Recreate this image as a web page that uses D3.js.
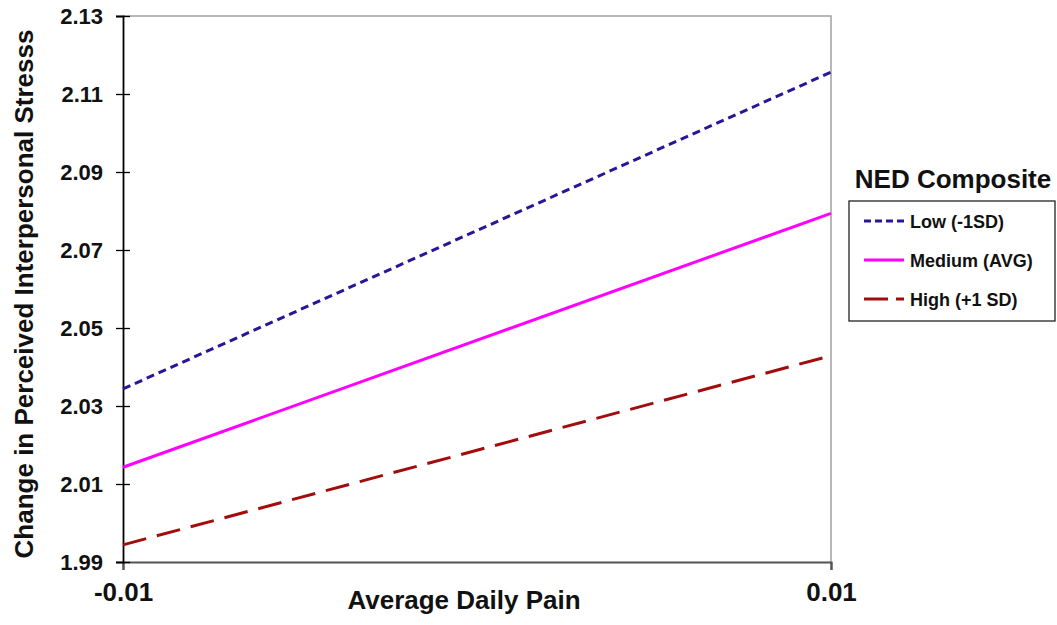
<!DOCTYPE html>
<html>
<head>
<meta charset="utf-8">
<script src="https://cdn.jsdelivr.net/npm/d3@7"></script>
<style>
  body { margin: 0; background: #fff; }
  text { font-family: "Liberation Sans", Arial, sans-serif; font-weight: bold; fill: #111; }
</style>
</head>
<body>
<script>
const painLevels = [-0.01, 0.01];
const seriesNames = ['Low (-1SD)', 'Medium (AVG)', 'High (+1 SD)'];
const lowValues = [2.0344, 2.1156];
const mediumValues = [2.0143, 2.0794];
const highValues = [1.9944, 2.0429];
const yTicks = [1.99, 2.01, 2.03, 2.05, 2.07, 2.09, 2.11, 2.13];
const xTicks = [-0.01, 0.01];

const width = 1057, height = 625;
const plotLeft = 123, plotRight = 831, plotTop = 16, plotBottom = 562;

const svg = d3.select('body').append('svg')
    .attr('width', width)
    .attr('height', height);

const x = d3.scaleLinear().domain([-0.01, 0.01]).range([plotLeft, plotRight]);
const y = d3.scaleLinear().domain([1.99, 2.13]).range([plotBottom, plotTop]);

// frame on top and right
svg.append('path')
    .attr('d', `M${plotLeft},${plotTop}H${plotRight}V${plotBottom}`)
    .attr('fill', 'none')
    .attr('stroke', '#a0a0a0')
    .attr('stroke-width', 1.5);

// bottom axis
const xAxis = svg.append('g')
    .attr('transform', `translate(0,${plotBottom})`)
    .call(d3.axisBottom(x).tickValues(xTicks).tickSize(8).tickPadding(13)
        .tickFormat(d => d3.format('.2f')(d).replace('−', '-')));
xAxis.select('.domain').attr('stroke', '#555').attr('stroke-width', 2);
xAxis.selectAll('.tick line').attr('stroke', '#555').attr('stroke-width', 2);
xAxis.selectAll('.tick text').attr('font-size', 26).attr('font-family', '"Liberation Sans", Arial, sans-serif').attr('fill', '#111');

// left axis
const yAxis = svg.append('g')
    .attr('transform', `translate(${plotLeft},0)`)
    .call(d3.axisLeft(y).tickValues(yTicks).tickSize(7).tickPadding(13).tickFormat(d3.format('.2f')));
yAxis.select('.domain').attr('stroke', '#000').attr('stroke-width', 1.8);
yAxis.selectAll('.tick line').attr('stroke', '#000').attr('stroke-width', 1.3).attr('x2', 7).attr('x1', -7);
yAxis.selectAll('.tick text').attr('font-size', 22).attr('font-family', '"Liberation Sans", Arial, sans-serif').attr('fill', '#111');

const series = [
    {name: seriesNames[0], values: lowValues, color: '#2a1598', dash: '8,5', legendDash: '7,4'},
    {name: seriesNames[1], values: mediumValues, color: '#ff00ff', dash: null, legendDash: null},
    {name: seriesNames[2], values: highValues, color: '#a30c0c', dash: '24,11', legendDash: '24,8'}
];

const line = d3.line()
    .x((d, i) => x(painLevels[i]))
    .y(d => y(d));

svg.selectAll('.series')
    .data(series)
    .enter()
    .append('path')
    .attr('class', 'series')
    .attr('d', d => line(d.values))
    .attr('fill', 'none')
    .attr('stroke', d => d.color)
    .attr('stroke-width', 3)
    .attr('stroke-dasharray', d => d.dash);

// axis titles
svg.append('text')
    .attr('x', 464)
    .attr('y', 609)
    .attr('text-anchor', 'middle')
    .attr('font-size', 26)
    .text('Average Daily Pain');

svg.append('text')
    .attr('transform', `translate(33,294) rotate(-90)`)
    .attr('text-anchor', 'middle')
    .attr('font-size', 26)
    .text('Change in Perceived Interpersonal Stresss');

// legend
const legend = svg.append('g');
legend.append('text')
    .attr('x', 953)
    .attr('y', 188)
    .attr('text-anchor', 'middle')
    .attr('font-size', 26)
    .text('NED Composite');

legend.append('rect')
    .attr('x', 849)
    .attr('y', 201)
    .attr('width', 206)
    .attr('height', 120)
    .attr('fill', '#fff')
    .attr('stroke', '#222')
    .attr('stroke-width', 1.3);

const rows = legend.selectAll('.row')
    .data(series)
    .enter()
    .append('g')
    .attr('transform', (d, i) => `translate(0,${221 + i * 39})`);

rows.append('line')
    .attr('x1', 864)
    .attr('x2', 904)
    .attr('stroke', d => d.color)
    .attr('stroke-width', 3)
    .attr('stroke-dasharray', d => d.legendDash);

rows.append('text')
    .attr('x', 910)
    .attr('y', 6.5)
    .attr('font-size', 18)
    .text(d => d.name);
</script>
</body>
</html>
